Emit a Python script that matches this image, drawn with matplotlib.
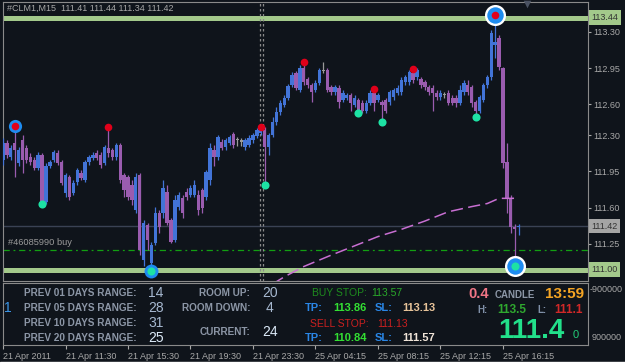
import matplotlib
matplotlib.use("Agg")
import matplotlib.pyplot as plt
from matplotlib.patches import Rectangle

plt.rcParams['font.family'] = ['Liberation Sans', 'DejaVu Sans']

W, H = 625, 364
BG = "#0f141b"
GREY = "#a8a8a8"
BULL = "#4274d8"
BEAR = "#9a5caf"
DOJI = "#9a9a9a"

# --- #CLM1, M15 candles ---
opens = [112.06, 112.23, 112.09, 112.23, 112.03, 112.25, 112.18, 112.09, 112.06, 111.98,
         112.11, 111.65, 112.00, 112.06, 112.13, 112.04, 111.74, 111.90, 111.74, 111.85,
         111.94, 111.87, 112.04, 112.08, 112.13, 112.11, 112.03, 112.18, 112.16, 112.09,
         112.21, 111.92, 111.90, 111.82, 111.58, 111.92, 111.09, 111.43, 111.06, 111.26,
         111.55, 111.55, 111.75, 111.48, 111.29, 111.61, 111.69, 111.75, 111.72, 111.72,
         111.72, 111.77, 111.70, 111.87, 112.16, 112.09, 112.24, 112.19, 112.23, 112.31,
         112.25, 112.24, 112.19, 112.21, 112.25, 112.29, 112.32, 112.35, 112.19, 112.30,
         112.43, 112.53, 112.59, 112.66, 112.79, 112.90, 112.74, 112.95, 112.84, 112.79,
         112.74, 112.81, 112.92, 112.93, 112.77, 112.72, 112.76, 112.64, 112.66, 112.69,
         112.59, 112.64, 112.61, 112.54, 112.61, 112.71, 112.64, 112.62, 112.64, 112.62,
         112.67, 112.71, 112.72, 112.82, 112.82, 112.90, 112.86, 112.84, 112.82, 112.77,
         112.76, 112.71, 112.67, 112.69, 112.71, 112.66, 112.66, 112.61, 112.72, 112.79,
         112.77, 112.62, 112.54, 112.64, 112.79, 112.86, 113.17, 113.24, 112.95, 112.04,
         111.69, 111.41, 111.41]
highs = [112.27, 112.25, 112.21, 112.39, 112.19, 112.30, 112.21, 112.13, 112.09, 112.14,
         112.13, 112.03, 112.06, 112.16, 112.16, 112.06, 111.94, 111.92, 111.87, 111.98,
         111.96, 112.06, 112.11, 112.14, 112.16, 112.14, 112.21, 112.38, 112.18, 112.23,
         112.23, 111.94, 111.92, 111.87, 111.94, 111.94, 111.48, 111.45, 111.27, 111.61,
         111.58, 111.87, 111.82, 111.50, 111.72, 111.75, 111.72, 111.79, 111.82, 111.87,
         111.77, 111.79, 111.96, 112.23, 112.21, 112.30, 112.26, 112.27, 112.30, 112.33,
         112.28, 112.27, 112.27, 112.30, 112.32, 112.37, 112.38, 112.38, 112.32, 112.48,
         112.57, 112.64, 112.69, 112.80, 112.91, 112.92, 112.98, 113.01, 112.86, 112.81,
         112.84, 112.95, 113.01, 112.95, 112.79, 112.79, 112.79, 112.74, 112.71, 112.71,
         112.69, 112.66, 112.64, 112.64, 112.74, 112.75, 112.71, 112.64, 112.66, 112.74,
         112.76, 112.79, 112.86, 112.88, 112.93, 112.94, 112.95, 112.86, 112.84, 112.79,
         112.79, 112.74, 112.74, 112.72, 112.74, 112.69, 112.69, 112.79, 112.84, 112.84,
         112.79, 112.64, 112.69, 112.81, 112.88, 113.32, 113.46, 113.27, 112.96, 112.23,
         111.72, 111.44, 111.44]
lows = [112.01, 112.08, 112.06, 111.90, 112.00, 111.94, 112.03, 112.01, 111.96, 111.96,
        111.64, 111.64, 111.98, 112.04, 112.01, 111.82, 111.70, 111.67, 111.72, 111.82,
        111.87, 111.85, 112.01, 112.06, 112.06, 111.98, 112.01, 112.09, 112.06, 112.06,
        111.84, 111.70, 111.67, 111.63, 111.55, 111.14, 111.04, 111.19, 110.99, 111.24,
        111.35, 111.50, 111.43, 111.26, 111.27, 111.58, 111.50, 111.67, 111.70, 111.70,
        111.53, 111.55, 111.67, 111.82, 112.00, 112.06, 112.16, 112.16, 112.21, 112.18,
        112.20, 112.20, 112.16, 112.19, 112.23, 112.27, 112.30, 111.82, 112.11, 112.28,
        112.40, 112.50, 112.57, 112.64, 112.77, 112.74, 112.72, 112.79, 112.76, 112.62,
        112.72, 112.79, 112.90, 112.72, 112.69, 112.69, 112.56, 112.62, 112.64, 112.54,
        112.57, 112.52, 112.52, 112.52, 112.59, 112.54, 112.62, 112.45, 112.52, 112.59,
        112.64, 112.69, 112.69, 112.79, 112.79, 112.81, 112.84, 112.76, 112.74, 112.69,
        112.54, 112.64, 112.64, 112.66, 112.59, 112.59, 112.57, 112.59, 112.69, 112.69,
        112.57, 112.48, 112.52, 112.62, 112.76, 112.84, 113.05, 112.93, 111.98, 111.55,
        111.35, 111.04, 111.34]
closes = [112.23, 112.11, 112.18, 112.16, 112.16, 112.06, 112.06, 112.04, 111.98, 112.11,
          111.65, 112.00, 112.04, 112.14, 112.03, 111.84, 111.92, 111.70, 111.84, 111.96,
          111.89, 112.04, 112.09, 112.11, 112.08, 112.01, 112.19, 112.13, 112.09, 112.21,
          111.87, 111.77, 111.70, 111.67, 111.90, 111.19, 111.45, 111.29, 111.24, 111.55,
          111.41, 111.79, 111.45, 111.27, 111.67, 111.72, 111.55, 111.70, 111.79, 111.82,
          111.58, 111.60, 111.94, 112.18, 112.09, 112.28, 112.18, 112.25, 112.28, 112.21,
          112.25, 112.24, 112.25, 112.27, 112.30, 112.35, 112.36, 112.19, 112.30, 112.43,
          112.53, 112.61, 112.66, 112.78, 112.88, 112.76, 112.95, 112.82, 112.79, 112.72,
          112.81, 112.93, 112.92, 112.74, 112.72, 112.77, 112.62, 112.71, 112.69, 112.61,
          112.66, 112.54, 112.54, 112.61, 112.71, 112.61, 112.69, 112.59, 112.54, 112.72,
          112.74, 112.76, 112.84, 112.86, 112.91, 112.84, 112.93, 112.79, 112.77, 112.72,
          112.71, 112.67, 112.71, 112.69, 112.61, 112.61, 112.61, 112.74, 112.81, 112.72,
          112.61, 112.54, 112.67, 112.79, 112.86, 113.29, 113.20, 112.96, 112.03, 111.69,
          111.41, 111.39, 111.42]

price_ticks = [113.30, 112.95, 112.60, 112.30, 111.95, 111.60, 111.25]
time_ticks = [0, 16, 32, 48, 64, 80, 96, 112, 128]
time_labels = ["21 Apr 2011", "21 Apr 11:30", "21 Apr 15:30", "21 Apr 19:30",
               "21 Apr 23:30", "25 Apr 04:15", "25 Apr 08:15", "25 Apr 12:15",
               "25 Apr 16:15"]

# fractal markers
swing_high_idx = [3, 27, 66, 77, 95, 105, 126]
swing_high_px = [112.39, 112.38, 112.38, 113.01, 112.75, 112.94, 113.46]
swing_low_idx = [10, 38, 67, 91, 97, 121, 131]
swing_low_px = [111.64, 110.99, 111.82, 112.52, 112.43, 112.48, 111.04]

# moving average (pink dashed)
ma_idx = [69, 72, 77, 84, 90, 96, 102, 108, 114, 120, 124, 127, 131, 132]
ma_val = [110.86, 110.93, 111.03, 111.14, 111.23, 111.32, 111.39, 111.47, 111.56,
          111.61, 111.64, 111.69, 111.69, 111.68]

separators = [65.7, 66.5]
level_high = 113.44
level_low = 111.00
bid = 111.42
order_price = 111.19

# panel values
range_labels = ["PREV 01 DAYS RANGE:", "PREV 05 DAYS RANGE:",
                "PREV 10 DAYS RANGE:", "PREV 20 DAYS RANGE:"]
range_values = [14, 28, 31, 25]
room_labels = ["ROOM UP:", "ROOM DOWN:", "CURRENT:"]
room_values = [20, 4, 24]


fig = plt.figure(figsize=(W / 100, H / 100), dpi=100, facecolor=BG)


def ptxt(x, y, s, **kw):
    kw.setdefault("va", "center")
    fig.text(x / W, 1 - y / H, s, **kw)


ax = fig.add_axes([2.5 / W, 1 - 281 / H, 585.5 / W, 279 / H])
ax.set_facecolor(BG)
ax.set_xlim(-0.13, 149.77)
ax.set_ylim(110.89, 113.59)
for sp in ax.spines.values():
    sp.set_color("#8a8a8a")
    sp.set_linewidth(0.8)

# horizontal levels
ax.axhline(level_high, color="#a3c98b", lw=3.6, zorder=2)
ax.axhline(level_low, color="#a3c98b", lw=3.6, zorder=2)
ax.axhline(bid, color="#3a4254", lw=1.0, zorder=1)
ax.axhline(order_price, color="#12a012", lw=0.9, linestyle=(0, (5, 3, 1.5, 3)), zorder=1)
ax.text(1.3, order_price + 0.03, "#46085990 buy", color="#9a9a9a", fontsize=6.7,
        ha="left", va="bottom")
for s in separators:
    ax.axvline(s, color="#8a8a8a", lw=0.9, linestyle=(0, (2, 2)), zorder=2)

# candles
idx = list(range(len(opens)))
cols = []
for o, c in zip(opens, closes):
    cols.append(BULL if c > o else (BEAR if c < o else DOJI))
ax.vlines(idx, lows, highs, colors=cols, lw=0.9, zorder=3)
bottoms = [min(o, c) for o, c in zip(opens, closes)]
heights = [max(abs(c - o), 0.012) for o, c in zip(opens, closes)]
ax.bar(idx, heights, bottom=bottoms, width=0.86, color=cols, linewidth=0, zorder=3)

# moving average
ax.plot(ma_idx, ma_val, color="#c86fd2", lw=1.1, dashes=(8, 3.5), zorder=4)

# fractal dots and rings
ax.scatter([swing_high_idx[0]], [swing_high_px[0]], s=90, color="#1e8cf0", zorder=5, lw=0)
ax.scatter([swing_low_idx[1]], [swing_low_px[1]], s=100, color="#1e8cf0", zorder=5, lw=0)
ax.scatter([swing_high_idx[-1], swing_low_idx[-1]], [swing_high_px[-1], swing_low_px[-1]],
           s=230, color="white", zorder=5, lw=0)
ax.scatter([swing_high_idx[-1], swing_low_idx[-1]], [swing_high_px[-1], swing_low_px[-1]],
           s=140, color="#1e8cf0", zorder=5, lw=0)
ax.scatter(swing_high_idx, swing_high_px, s=30, color="#e0001a", zorder=6, lw=0)
ax.scatter(swing_low_idx, swing_low_px, s=34, color="#1de2a4", zorder=6, lw=0)

# price axis
ax.set_xticks([])
ax.yaxis.tick_right()
ax.set_yticks(price_ticks)
ax.set_yticklabels(["%.2f" % p for p in price_ticks])
ax.tick_params(axis="y", length=2, color=GREY, labelsize=6.5, labelcolor=GREY, pad=1.5)
ytr = ax.get_yaxis_transform()
for val, fc in [(level_high, "#a3c98b"), (bid, "#a5a5a5"), (level_low, "#a3c98b")]:
    ax.text(1.0 + 3.5 / 585.5, val, "%.2f" % val, transform=ytr, fontsize=6.5,
            color="#333333", ha="left", va="center", zorder=7, clip_on=False,
            bbox=dict(boxstyle="square,pad=0.3", fc=fc, ec="none"))
ax.scatter([0.896], [0.994], transform=ax.transAxes, marker="v", s=30,
           color="#4a5262", clip_on=False, zorder=7, lw=0)

ptxt(7, 8, "#CLM1,M15  111.41 111.44 111.34 111.42", color=GREY, fontsize=6.5, ha="left")

# info panel
pn = fig.add_axes([2.5 / W, 1 - 345 / H, 585.5 / W, 62 / H])
pn.set_facecolor(BG)
pn.set_xlim(-0.13, 149.77)
pn.set_yticks([])
for sp in pn.spines.values():
    sp.set_color("#8a8a8a")
    sp.set_linewidth(0.8)
pn.set_xticks(time_ticks)
pn.set_xticklabels(time_labels, fontsize=6.5, color=GREY, ha="left")
pn.tick_params(axis="x", length=3, color=GREY, pad=2)

ptxt(590, 290, "-900000", color=GREY, fontsize=6.5, ha="left")
ptxt(592, 338, "900000", color=GREY, fontsize=6.5, ha="left")

ptxt(8, 308, "1", color="#3a96e8", fontsize=10, ha="center")
for k, (lab, v) in enumerate(zip(range_labels, range_values)):
    y = 293 + 15 * k
    ptxt(137, y, lab, color="#8c96a6", fontsize=7.2, fontweight="bold", ha="right")
    ptxt(156, y, str(v), color="#dceaf8" if k == 3 else "#a6b8d0", fontsize=10,
         ha="center")
for lab, v, y in zip(room_labels, room_values, [293, 308, 332]):
    ptxt(250, y, lab, color="#8c96a6", fontsize=7.2, fontweight="bold", ha="right")
    ptxt(270, y, str(v), color="#dceaf8" if lab == "CURRENT:" else "#a6b8d0",
         fontsize=10, ha="center")

ptxt(312, 293, "BUY STOP:", color="#1e8c1e", fontsize=7.5, ha="left")
ptxt(371, 293, "113.57", color="#2aaa2a", fontsize=7.5, ha="left")
ptxt(310, 324, "SELL STOP:", color="#cc2020", fontsize=7.5, ha="left")
ptxt(377, 324, "111.13", color="#cc2020", fontsize=7.5, ha="left")
for y, tp, sl, slc in [(308, "113.86", "113.13", "#e8c49a"), (338, "110.84", "111.57", "#f0e4d8")]:
    ptxt(305, y, "TP:", color="#2a86e6", fontsize=8, fontweight="bold", ha="left")
    ptxt(333, y, tp, color="#33e033", fontsize=8, fontweight="bold", ha="left")
    ptxt(375, y, "SL:", color="#2a86e6", fontsize=8, fontweight="bold", ha="left")
    ptxt(402, y, sl, color=slc, fontsize=8, fontweight="bold", ha="left")

ptxt(468, 294, "0.4", color="#f07585", fontsize=10.5, fontweight="bold", ha="left")
ptxt(495, 295, "CANDLE", color="#8c96a6", fontsize=7, fontweight="bold", ha="left")
ptxt(545, 294, "13:59", color="#f5a524", fontsize=11, fontweight="bold", ha="left")
ptxt(477, 310, "H:", color="#8090a8", fontsize=7, fontweight="bold", ha="left")
ptxt(497, 310, "113.5", color="#2fa82f", fontsize=8.5, fontweight="bold", ha="left")
ptxt(537, 310, "L:", color="#8090a8", fontsize=7, fontweight="bold", ha="left")
ptxt(554, 310, "111.1", color="#d02828", fontsize=8.5, fontweight="bold", ha="left")
ptxt(531, 331, "111.4", color="#22e08a", fontsize=20, fontweight="bold", ha="center")
ptxt(576, 335, "0", color="#22cc77", fontsize=8, ha="center")

fig.patches.append(Rectangle((0, 0), 1, 2 / H, transform=fig.transFigure,
                             color="white", zorder=10))

fig.savefig("out.png", dpi=100, facecolor=BG)
